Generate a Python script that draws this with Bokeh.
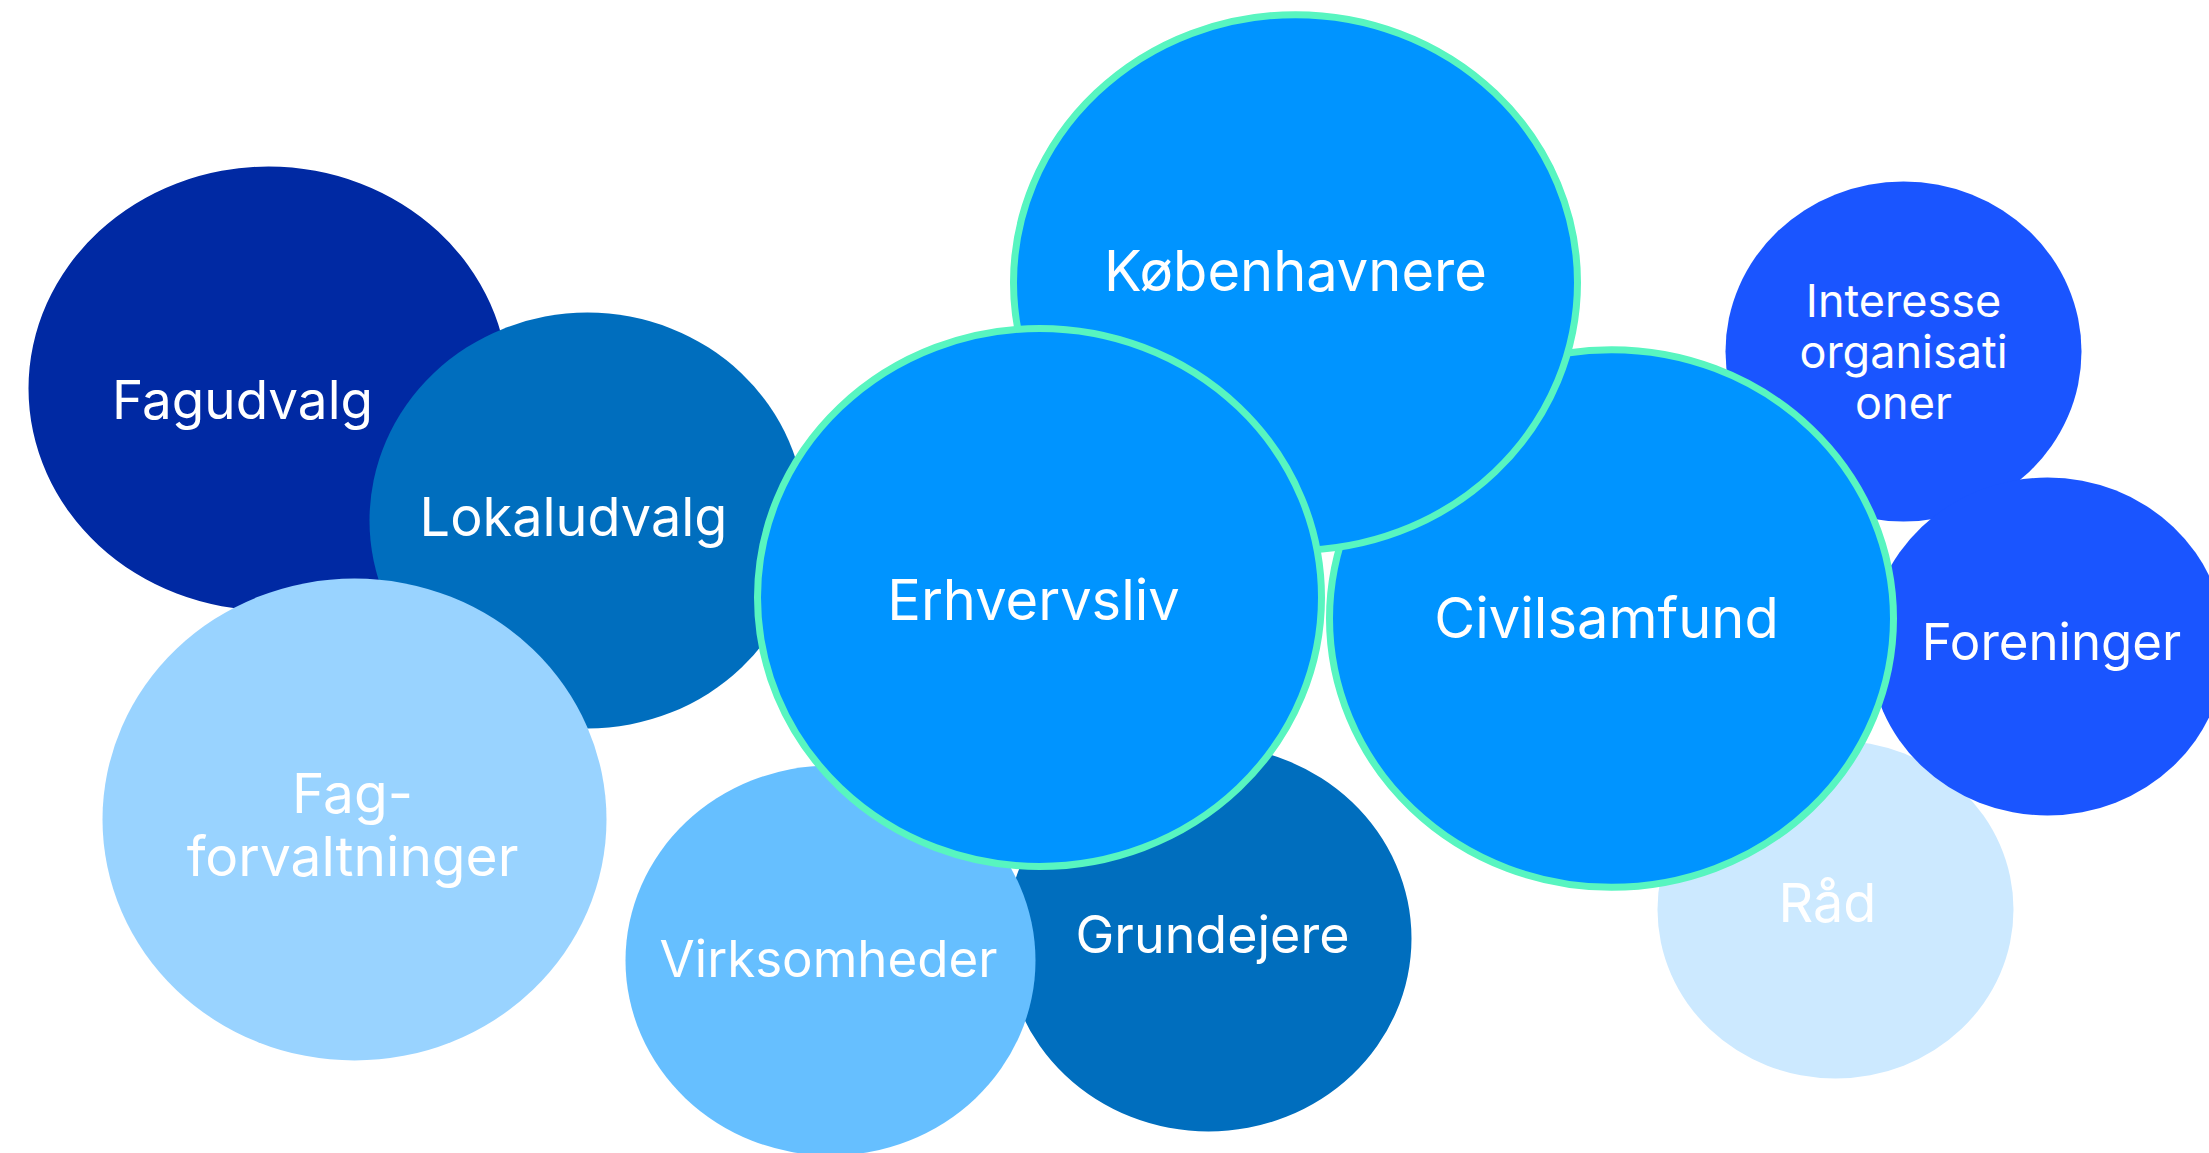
from bokeh.plotting import figure
from bokeh.models import Range1d, ColumnDataSource
from bokeh.core.properties import value
from bokeh.embed import file_html
from bokeh.resources import INLINE

# ---- data (drawing order: bottom to top) ----
labels = ["Fagudvalg", "Lokaludvalg", "Fag-\nforvaltninger", "Grundejere", "Virksomheder",
          "Interesse\norganisati\noner", "Råd", "Foreninger",
          "Civilsamfund", "Københavnere", "Erhvervsliv"]
# bubble layout (page pixels): centre x, centre y, half width, half height
pos_x = [268, 587, 354, 1208, 830, 1903, 1835, 2047, 1611, 1295, 1039]
pos_y = [388, 520, 819, 938, 960, 351, 909, 646, 618, 282, 597]
half_w = [240, 218, 252, 203, 205, 178, 178, 178, 282, 282, 282]
half_h = [222, 208, 241, 193, 195, 170, 169, 169, 269, 268, 269]

# ---- styles ----
colors = ["#0029A3", "#006EBE", "#99D3FF", "#006EBE", "#66BFFF",
          "#1A55FF", "#CCE9FF", "#1A55FF", "#0094FF", "#0094FF", "#0094FF"]
highlight = [False] * 8 + [True] * 3
font_sizes = ["53px", "54px", "55px", "52px", "51px", "45px", "54px", "51px", "56px", "56px", "56px"]
label_dx = [-26, -14, -2, 4, -2, 0, -8, 4, -5, 0, -6]
label_dy = [11, -4, 5, -4, -2, 0, -7, -5, -1, -12, 2]
line_heights = [1.0, 1.0, 0.953, 1.0, 1.0, 0.93, 1.0, 1.0, 1.0, 1.0, 1.0]

BORDER = "#58F5C0"
W, H = 2209, 1153

p = figure(width=W, height=H, x_range=Range1d(0, W), y_range=Range1d(H, 0),
           output_backend="svg", toolbar_location=None, min_border=0)
p.axis.visible = False
p.grid.visible = False
p.outline_line_color = None
p.background_fill_color = "white"
p.border_fill_color = "white"

plain = [i for i in range(len(labels)) if not highlight[i]]
hi = [i for i in range(len(labels)) if highlight[i]]

def src(idx):
    return ColumnDataSource(dict(
        x=[pos_x[i] for i in idx], y=[pos_y[i] for i in idx],
        w=[2 * half_w[i] for i in idx], h=[2 * half_h[i] for i in idx],
        c=[colors[i] for i in idx]))

p.ellipse(x="x", y="y", width="w", height="h", fill_color="c", line_color=None, source=src(plain))
p.ellipse(x="x", y="y", width="w", height="h", fill_color="c", line_color=BORDER,
          line_width=7, source=src(hi))

for i in range(len(labels)):
    p.text(x=[pos_x[i]], y=[pos_y[i]], text=[labels[i]], text_font_size=font_sizes[i],
           x_offset=label_dx[i], y_offset=label_dy[i],
           text_color="white", text_align="center", text_baseline="middle",
           text_line_height=line_heights[i], text_font=value("Inter"))

open("out.html", "w").write(file_html(p, INLINE))
